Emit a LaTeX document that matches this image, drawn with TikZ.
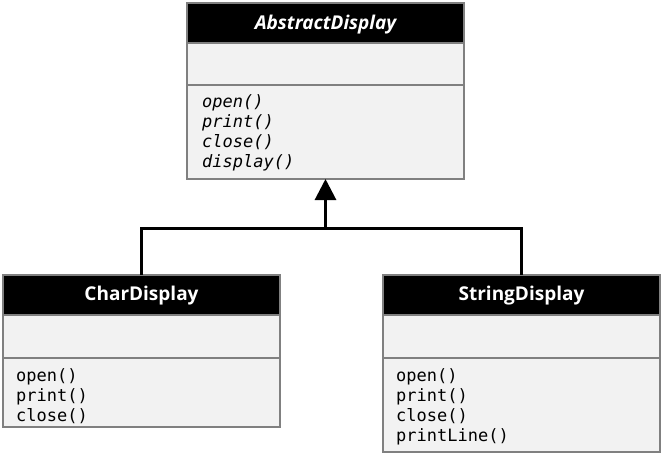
\documentclass[tikz,border=0pt]{standalone}
\usepackage{fontspec}
\setmainfont{Open Sans}
\setmonofont{DejaVu Sans Mono}
\usetikzlibrary{arrows.meta}
\definecolor{boxfill}{HTML}{F2F2F2}
\definecolor{boxline}{HTML}{808080}
\tikzset{
  hdr/.style={draw=boxline, line width=2pt, fill=black, text=white, inner sep=0pt, outer sep=0pt,
    minimum width=277pt, minimum height=40pt, font=\fontsize{19}{22}\selectfont\bfseries},
  hdrtext/.style={text=white, inner sep=0pt, font=\fontsize{19}{22}\selectfont\bfseries},
  comp/.style={draw=boxline, line width=2pt, fill=boxfill, inner sep=0pt, outer sep=0pt, minimum width=277pt},
  ops/.style={anchor=north west, inner sep=0pt, align=left, font=\fontsize{17}{20}\selectfont\ttfamily},
  conn/.style={line width=3pt, draw=black},
}
\begin{document}
\begin{tikzpicture}[x=1pt,y=-1pt]
\useasboundingbox (0,0) rectangle (664,455);
% AbstractDisplay
\node[comp, minimum height=94pt] (absO) at (325.5,132) {};
\node[comp, minimum height=42pt] (absA) at (325.5,64) {};
\node[hdr] (absH) at (325.5,23) {};
\node[hdrtext, yshift=-2pt] (absN) at (absH) {\itshape AbstractDisplay};
\node[ops, font=\fontsize{17}{20}\selectfont\ttfamily\itshape] (absT) at (202,94) {open()\\print()\\close()\\display()};
% CharDisplay
\node[comp, minimum height=69pt] (charO) at (141.5,392.5) {};
\node[comp, minimum height=43pt] (charA) at (141.5,336.5) {};
\node[hdr] (charH) at (141.5,295) {};
\node[hdrtext, yshift=-1pt] (charN) at (charH) {CharDisplay};
\node[ops] (charT) at (16,368) {open()\\print()\\close()};
% StringDisplay
\node[comp, minimum height=94pt] (strO) at (521.5,405) {};
\node[comp, minimum height=43pt] (strA) at (521.5,336.5) {};
\node[hdr] (strH) at (521.5,295) {};
\node[hdrtext, yshift=-1pt] (strN) at (strH) {StringDisplay};
\node[ops] (strT) at (396,368) {open()\\print()\\close()\\printLine()};
% connectors
\coordinate (j) at (325.5,228);
\draw[conn] (charH.north) |- (j) -| (strH.north);
\draw[conn, -{Triangle[length=21pt,width=21pt]}] (j) -- (absO.south);
\end{tikzpicture}
\end{document}
